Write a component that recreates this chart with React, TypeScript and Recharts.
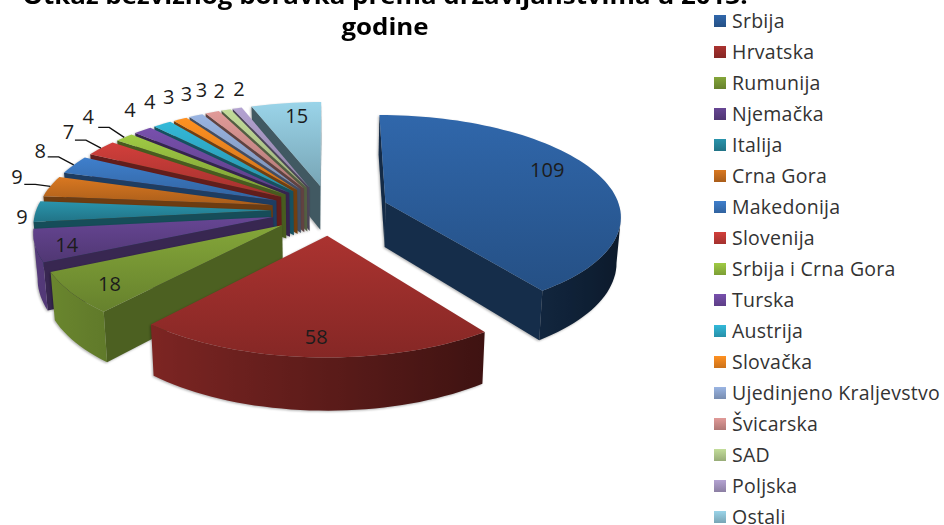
import { PieChart, Pie, Legend } from 'recharts';

const countries = ['Srbija', 'Hrvatska', 'Rumunija', 'Njemačka', 'Italija', 'Crna Gora', 'Makedonija', 'Slovenija', 'Srbija i Crna Gora', 'Turska', 'Austrija', 'Slovačka', 'Ujedinjeno Kraljevstvo', 'Švicarska', 'SAD', 'Poljska', 'Ostali'];
const counts = [109, 58, 18, 14, 9, 9, 8, 7, 4, 4, 4, 3, 3, 3, 2, 2, 15];
const colors = ['#2c5f9e', '#9e2f2c', '#7a9a35', '#5f4189', '#27899f', '#c96f1f', '#3a76bd', '#c23a37', '#94bc3f', '#6f4aa0', '#2fabc9', '#f2861f', '#8fa8d2', '#d08f8d', '#b5cd8f', '#a797c2', '#8fc4d8'];
const titleLines = ['Otkaz bezviznog boravka prema državljanstvima u 2013.', 'godine'];

// small slices keep their number outside the pie
const outsideFrom = 4;
// name -> how far the leader rises before it turns flat
const leaderRise: Record<string, number> = {
    'Crna Gora': 2,
    Makedonija: 8,
    Slovenija: 8,
    'Srbija i Crna Gora': 10,
};
const labelNudge: Record<string, [number, number]> = {
    Srbija: [-19, -8],
    Rumunija: [4, 1],
    Njemačka: [-5, 3],
    Ostali: [6, 1],
    Italija: [5, 5],
    'Crna Gora': [-16, -8],
    Makedonija: [-18, -12],
    Slovenija: [-19, -13],
    'Srbija i Crna Gora': [-24, -17],
    Turska: [-2, -16],
    Austrija: [-3, -18],
    Slovačka: [-3, -18],
    'Ujedinjeno Kraljevstvo': [-2, -17],
    Švicarska: [-4, -17],
    SAD: [-1, -14],
    Poljska: [7, -14],
};

// pie is reversed so the back slices get painted first
const tableData = countries
    .map((name, i) => ({ name, value: counts[i], fill: colors[i], order: i }))
    .reverse();

const SQUASH = 0.425;
const PERSPECTIVE = 0.123;
const EXPLODE = 0.25;
const DEPTH = 45;

const RAD = Math.PI / 180;

function project(cx: number, cy: number, r: number, wx: number, wy: number, low = false) {
    const d = 1 - PERSPECTIVE * wy;
    let x = cx + (r * wx) / d;
    let y = cy + (r * SQUASH * wy) / d;
    if (low) {
        x = cx + (x - cx) * 0.985;
        y += DEPTH / d;
    }
    return [x, y];
}

function shade(hex: string, f: number) {
    const n = parseInt(hex.slice(1), 16);
    const c = [(n >> 16) & 255, (n >> 8) & 255, n & 255].map((v) => Math.min(255, Math.round(v * f)));
    return `rgb(${c[0]},${c[1]},${c[2]})`;
}

function toPath(pts: number[][]) {
    return 'M' + pts.map((p) => `${p[0].toFixed(1)},${p[1].toFixed(1)}`).join('L') + 'Z';
}

function Slice3D(props: any) {
    const { cx, cy, outerRadius, startAngle, endAngle, fill, name, payload } = props;
    const mid = (startAngle + endAngle) / 2;
    const ex = EXPLODE * Math.cos(mid * RAD);
    const ey = -EXPLODE * Math.sin(mid * RAD);
    const at = (deg: number, rr: number, low = false) =>
        project(cx, cy, outerRadius, ex + rr * Math.cos(deg * RAD), ey - rr * Math.sin(deg * RAD), low);

    const steps = Math.max(2, Math.ceil((endAngle - startAngle) / 2));
    const angles: number[] = [];
    for (let i = 0; i <= steps; i++) angles.push(startAngle + ((endAngle - startAngle) * i) / steps);

    const apexTop = at(0, 0);
    const apexLow = at(0, 0, true);
    const rimTop = angles.map((a) => at(a, 1));
    const rimLow = angles.map((a) => at(a, 1, true));
    const top = [apexTop, ...rimTop];

    // only walls that face the viewer get drawn
    const radial: { d: string; color: string }[] = [];
    if (rimTop[0][0] > apexTop[0]) {
        const nx = Math.cos((startAngle - 90) * RAD);
        radial.push({ d: toPath([apexTop, rimTop[0], rimLow[0], apexLow]), color: shade(fill, 0.55 + 0.1 * nx) });
    }
    if (apexTop[0] > rimTop[steps][0]) {
        const nx = Math.cos((endAngle + 90) * RAD);
        radial.push({ d: toPath([rimTop[steps], apexTop, apexLow, rimLow[steps]]), color: shade(fill, 0.55 + 0.1 * nx) });
    }

    const run: number[] = [];
    for (let i = 0; i <= steps; i++) {
        const rising = (i < steps && rimTop[i + 1][0] > rimTop[i][0]) || (i > 0 && rimTop[i][0] > rimTop[i - 1][0]);
        if (rising) run.push(i);
    }

    const gid = `top-${payload?.order ?? name}`;
    const xs = run.map((i) => rimTop[i][0]);
    const minX = Math.min(...xs);
    const maxX = Math.max(...xs);

    return (
        <g style={{ filter: 'drop-shadow(-1px 1px 1px rgba(0,0,0,0.3))' }}>
            <defs>
                <linearGradient id={gid} x1="0" y1="0" x2="0" y2="1">
                    <stop offset="0%" stopColor={shade(fill, 1.08)} />
                    <stop offset="100%" stopColor={shade(fill, 0.84)} />
                </linearGradient>
                <linearGradient id={`${gid}-wall`} x1="0" y1="0" x2="1" y2="0">
                    {run.map((i) => (
                        <stop
                            key={i}
                            offset={maxX > minX ? (rimTop[i][0] - minX) / (maxX - minX) : 0}
                            stopColor={shade(fill, 0.58 - 0.32 * Math.cos(angles[i] * RAD))}
                        />
                    ))}
                </linearGradient>
            </defs>
            {radial.map((w, i) => (
                <path key={i} d={w.d} fill={w.color} />
            ))}
            {run.length > 1 && (
                <path
                    d={toPath([...run.map((i) => rimTop[i]), ...run.map((i) => rimLow[i]).reverse()])}
                    fill={`url(#${gid}-wall)`}
                />
            )}
            <path d={toPath(top)} fill={`url(#${gid})`} />
        </g>
    );
}

function SliceLabel(props: any) {
    const { cx, cy, outerRadius, midAngle, name, value } = props;
    const c = Math.cos(midAngle * RAD);
    const s = Math.sin(midAngle * RAD);
    const pos = (rr: number) =>
        project(cx, cy, outerRadius, EXPLODE * c + rr * c, -EXPLODE * s - rr * s);
    const order = countries.indexOf(name);
    const inside = order < outsideFrom || name === 'Ostali';
    const nudge = labelNudge[name] ?? [0, 0];
    const [x, y] = pos(inside ? 0.85 : 1.08);
    let leader = null;
    if (leaderRise[name] !== undefined) {
        const [rx, ry] = pos(1);
        const rise = leaderRise[name];
        const pts = [[rx, ry], [rx - 15, ry - rise], [rx - 26, ry - rise]];
        leader = <polyline points={pts.map((p) => p.join(',')).join(' ')} fill="none" stroke="#111" strokeWidth={1.4} />;
    }
    return (
        <g>
            {leader}
            <text x={x + nudge[0]} y={y + nudge[1]} textAnchor="middle" dominantBaseline="central" fontFamily="'Open Sans', sans-serif" fontSize={20} fill="#1c1c1c">
                {value}
            </text>
        </g>
    );
}

function CountryLegend() {
    return (
        <div style={{ fontFamily: "'Open Sans', sans-serif", fontSize: 19.5, lineHeight: '20px', letterSpacing: 0.25, color: '#333' }}>
            {countries.map((name, i) => (
                <div key={name} style={{ position: 'absolute', left: 0, top: i * 31, height: 24, display: 'flex', alignItems: 'center', whiteSpace: 'nowrap' }}>
                    <span style={{ width: 12, height: 12, marginRight: 6, background: `linear-gradient(${shade(colors[i], 1.08)}, ${shade(colors[i], 0.84)})` }} />
                    {name}
                </div>
            ))}
        </div>
    );
}

export default function App() {
    return (
        <div style={{ position: 'absolute', left: 0, top: 0, width: 944, height: 525, overflow: 'hidden', background: '#fff' }}>
            {titleLines.map((line, i) => (
                <div key={line} style={{ position: 'absolute', left: 0, width: 770, top: -21 + i * 31, textAlign: 'center', fontFamily: "'Open Sans', sans-serif", fontWeight: 700, fontSize: 23, color: '#000', whiteSpace: 'nowrap', transform: 'scaleX(1.125)' }}>
                    {line}
                </div>
            ))}
            <PieChart width={944} height={525} margin={{ top: 0, right: 0, bottom: 0, left: 0 }}>
                <Pie
                    data={tableData}
                    dataKey="value"
                    nameKey="name"
                    cx={330}
                    cy={210}
                    outerRadius={235}
                    startAngle={90}
                    endAngle={450}
                    isAnimationActive={false}
                    shape={Slice3D}
                    label={SliceLabel}
                    labelLine={false}
                />
                <Legend
                    layout="vertical"
                    content={() => <CountryLegend />}
                    wrapperStyle={{ position: 'absolute', left: 714, top: 9, width: 230, height: 515 }}
                />
            </PieChart>
        </div>
    );
}
